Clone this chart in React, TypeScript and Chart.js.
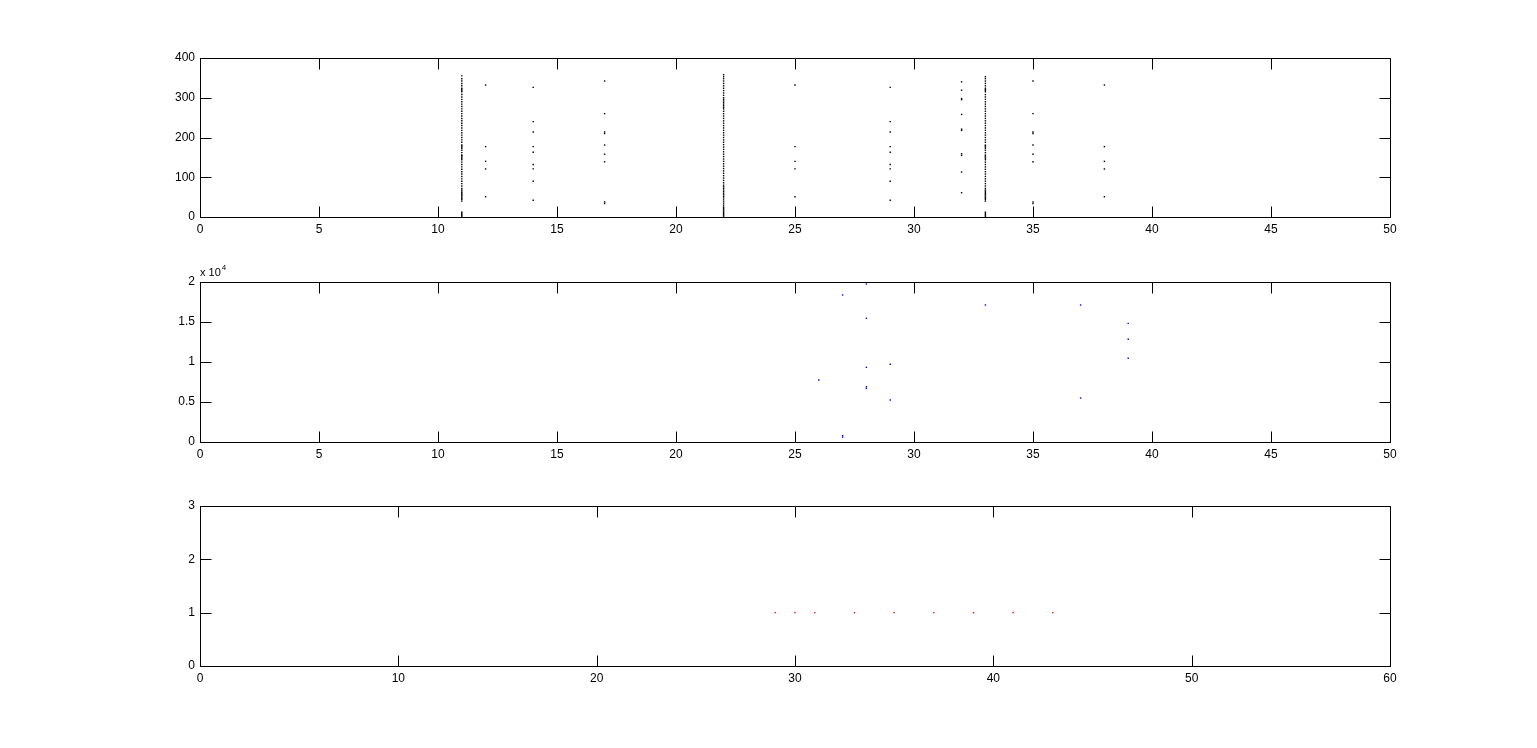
import { useEffect, useRef } from "react";
import { Chart, registerables } from "chart.js";

Chart.register(...registerables);

// ---------- Top subplot (black dots) ----------
const col11Y = [0, 3, 6, 9, 12, 40, 44, 47, 50, 53, 56, 59, 62, 65, 68, 72, 78, 84, 90, 96, 102, 108, 114, 120, 126, 132, 138, 144, 148, 151, 154, 156, 162, 168, 173, 176, 179, 181, 188, 194, 200, 206, 212, 218, 224, 230, 236, 242, 248, 254, 260, 266, 272, 278, 284, 290, 296, 302, 308, 315, 318, 321, 324, 330, 336, 342, 348, 355];
const col22Y = [0, 3, 6, 9, 12, 15, 18, 21, 24, 28, 33, 38, 43, 48, 52, 56, 60, 64, 68, 72, 76, 80, 86, 92, 98, 104, 110, 116, 122, 128, 134, 140, 146, 152, 158, 164, 170, 176, 182, 188, 194, 200, 206, 212, 218, 224, 230, 236, 242, 248, 254, 260, 266, 272, 276, 280, 284, 288, 292, 296, 300, 306, 312, 318, 324, 330, 336, 342, 348, 353, 358];
const col33Y = [0, 3, 6, 9, 12, 40, 44, 47, 50, 53, 56, 59, 62, 65, 68, 72, 78, 84, 90, 96, 102, 108, 114, 120, 126, 132, 138, 144, 148, 151, 154, 156, 162, 168, 173, 176, 179, 181, 188, 194, 200, 206, 212, 218, 224, 230, 236, 242, 248, 254, 260, 266, 272, 278, 284, 290, 296, 302, 308, 315, 318, 321, 324, 330, 336, 342, 348, 353];
const col12Y = [332, 177, 140, 121, 51];
const col14Y = [326, 240, 214, 177, 163, 132, 121, 90, 42];
const col17Y = [342, 260, 214, 210, 181, 158, 139, 38, 34];
const col25Y = [332, 177, 140, 121, 51];
const col29Y = [326, 240, 214, 177, 163, 132, 121, 90, 42];
const col32Y = [340, 319, 298, 295, 258, 221, 218, 159, 155, 113, 61];
const col35Y = [342, 260, 214, 210, 181, 158, 139, 38, 34];
const col38Y = [332, 177, 140, 121, 51];

const topColumns: [number, number[]][] = [
  [11, col11Y], [12, col12Y], [14, col14Y], [17, col17Y], [22, col22Y],
  [25, col25Y], [29, col29Y], [32, col32Y], [33, col33Y], [35, col35Y], [38, col38Y],
];

// ---------- Middle subplot (blue dots) ----------
const blueX = [26, 27, 27, 27, 28, 28, 28, 28, 28, 29, 29, 33, 37, 37, 39, 39, 39];
const blueY = [7750, 18375, 790, 600, 19750, 15460, 9335, 6910, 6700, 9710, 5250, 17125, 17125, 5500, 14830, 12840, 10460];

// ---------- Bottom subplot (red dots) ----------
const redX = [29, 30, 31, 33, 35, 37, 39, 41, 43];
const redY = [1, 1, 1, 1, 1, 1, 1, 1, 1];

const W = 1537;
const H = 748;
const AX_LEFT = 200;
const AX_RIGHT = 1390;
const Y_AXIS_W = 50;
const X_AXIS_H = 30;
const FONT = { family: "'Liberation Sans', Arial, sans-serif", size: 12 };
const TICK_LEN = 11;

const framePlugin = {
  id: "matlabFrame",
  afterDraw(chart: any) {
    const { ctx, chartArea: a, scales } = chart;
    const xs = scales.x;
    const ys = scales.y;
    const L = Math.round(a.left) + 0.5;
    const R = Math.round(a.right) + 0.5;
    const T = Math.round(a.top) + 0.5;
    const B = Math.round(a.bottom) + 0.5;
    ctx.save();
    ctx.strokeStyle = "#000";
    ctx.lineWidth = 1;
    ctx.beginPath();
    ctx.rect(L, T, R - L, B - T);
    xs.ticks.forEach((t: any) => {
      const p = Math.round(xs.getPixelForValue(t.value)) + 0.5;
      ctx.moveTo(p, B);
      ctx.lineTo(p, B - TICK_LEN);
      ctx.moveTo(p, T);
      ctx.lineTo(p, T + TICK_LEN);
    });
    ys.ticks.forEach((t: any) => {
      const p = Math.round(ys.getPixelForValue(t.value)) + 0.5;
      ctx.moveTo(L, p);
      ctx.lineTo(L + TICK_LEN, p);
      ctx.moveTo(R, p);
      ctx.lineTo(R - TICK_LEN, p);
    });
    ctx.stroke();
    const expo = chart.options.plugins?.matlabFrame?.exponent;
    if (expo) {
      ctx.fillStyle = "#000";
      ctx.textBaseline = "alphabetic";
      ctx.textAlign = "left";
      ctx.font = `11px ${FONT.family}`;
      ctx.fillText("x 10", a.left, a.top - 6);
      const w = ctx.measureText("x 10").width;
      ctx.font = `8px ${FONT.family}`;
      ctx.fillText(expo, a.left + w + 1, a.top - 12);
    }
    ctx.restore();
  },
};

function makeConfig(
  datasets: any[],
  top: number,
  bottom: number,
  xMax: number,
  xStep: number,
  yMax: number,
  yStep: number,
  yFmt: (v: number) => string,
  exponent?: string
): any {
  return {
    type: "scatter",
    data: { datasets },
    options: {
      responsive: false,
      animation: false,
      devicePixelRatio: 1,
      events: [],
      layout: {
        padding: {
          left: AX_LEFT - Y_AXIS_W,
          right: W - AX_RIGHT,
          top,
          bottom: H - bottom - X_AXIS_H,
        },
      },
      plugins: {
        legend: { display: false },
        tooltip: { enabled: false },
        matlabFrame: { exponent },
      },
      scales: {
        x: {
          type: "linear",
          min: 0,
          max: xMax,
          grid: { display: false, drawTicks: false },
          border: { display: false },
          ticks: { stepSize: xStep, color: "#000", font: FONT, padding: 5, maxRotation: 0 },
          afterFit: (s: any) => { s.height = X_AXIS_H; },
        },
        y: {
          type: "linear",
          min: 0,
          max: yMax,
          grid: { display: false, drawTicks: false },
          border: { display: false },
          ticks: { stepSize: yStep, color: "#000", font: FONT, padding: 5, callback: (v: number) => yFmt(v) },
          afterFit: (s: any) => { s.width = Y_AXIS_W; },
        },
      },
    },
    plugins: [framePlugin],
  };
}

const dotStyle = (color: string) => ({
  showLine: false,
  pointStyle: "rect",
  pointRadius: 1,
  pointBorderWidth: 0,
  pointBackgroundColor: color,
  pointBorderColor: color,
  backgroundColor: color,
  borderColor: color,
});

export default function App() {
  const c1 = useRef<HTMLCanvasElement>(null);
  const c2 = useRef<HTMLCanvasElement>(null);
  const c3 = useRef<HTMLCanvasElement>(null);

  useEffect(() => {
    document.body.style.margin = "0";
    const topData = topColumns.flatMap(([x, ys]) => ys.map((y) => ({ x, y })));
    const midData = blueX.map((x, i) => ({ x, y: blueY[i] }));
    const botData = redX.map((x, i) => ({ x, y: redY[i] }));

    const charts = [
      new Chart(
        c1.current!,
        makeConfig([{ data: topData, ...dotStyle("#000000") }], 58, 217, 50, 5, 400, 100, (v) => String(v))
      ),
      new Chart(
        c2.current!,
        makeConfig([{ data: midData, ...dotStyle("#0000ff") }], 282, 442, 50, 5, 20000, 5000, (v) => String(v / 10000), "4")
      ),
      new Chart(
        c3.current!,
        makeConfig([{ data: botData, ...dotStyle("#ff0000") }], 506, 666, 60, 10, 3, 1, (v) => String(v))
      ),
    ];
    return () => charts.forEach((c) => c.destroy());
  }, []);

  const cs: any = { position: "absolute", left: 0, top: 0, width: W, height: H };
  return (
    <div style={{ position: "fixed", left: 0, top: 0, width: W, height: H, background: "#fff" }}>
      <canvas ref={c1} width={W} height={H} style={cs} />
      <canvas ref={c2} width={W} height={H} style={cs} />
      <canvas ref={c3} width={W} height={H} style={cs} />
    </div>
  );
}
